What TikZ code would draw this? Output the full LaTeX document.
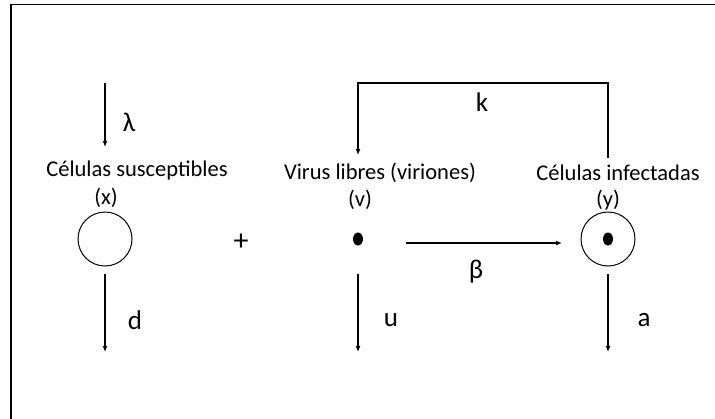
\documentclass[tikz,border=0pt]{standalone}
\usepackage{fontspec}
\setmainfont{Carlito}
\usetikzlibrary{arrows.meta,shapes.geometric}
\begin{document}
\begin{tikzpicture}[x=1pt,y=-1pt,
  txt/.style={inner sep=0pt,font=\fontsize{22.5}{24}\selectfont},
  lbl/.style={inner sep=0pt,font=\fontsize{27}{29}\selectfont},
  cell/.style={draw,circle,minimum size=54pt,inner sep=0pt,line width=1pt},
  dotn/.style={fill,ellipse,minimum width=10pt,minimum height=13pt,inner sep=0pt},
  flow/.style={line width=1.2pt,-{Latex[length=6pt,width=5pt]}}]
\useasboundingbox (0,0) rectangle (715,418);
\draw[line width=1.4pt] (11,419) -- (11,4.5) -- (716,4.5);
% nodes
\node[txt] (tsus) at (137,170) {Células susceptibles};
\node[txt] (lx) at (106,198) {(x)};
\node[cell] (cx) at (105,239) {};
\node[inner sep=0pt,font=\fontsize{30}{32}\selectfont] (plus) at (241,242) {+};
\node[txt] (tvir) at (380,173) {Virus libres (viriones)};
\node[txt] (lv) at (360,200) {(v)};
\node[dotn] (dv) at (358,239) {};
\node[txt] (tinf) at (618,173) {Células infectadas};
\node[txt] (ly) at (608,200) {(y)};
\node[cell] (cy) at (608,239) {};
\node[dotn] (dy) at (cy.center) {};
% coordinates
\coordinate (lamtop) at (105,83);
\coordinate (lamend) at (105,147);
\coordinate (dtop) at (105,274);
\coordinate (dend) at (105,352);
\coordinate (utop) at (358,274);
\coordinate (uend) at (358,352);
\coordinate (atop) at (608,274);
\coordinate (aend) at (608,352);
\coordinate (kstart) at (608,158);
\coordinate (kend) at (358,155);
\coordinate (bstart) at (406,243);
\coordinate (bend) at (562,243);
% connectors
\draw[flow] (lamtop) -- (lamend);
\draw[flow] (dtop) -- (dend);
\draw[flow] (utop) -- (uend);
\draw[flow] (atop) -- (aend);
\draw[flow] (kstart) -- (608,83) -- (358,83) -- (kend);
\draw[flow] (bstart) -- (bend);
% labels
\node[lbl] (llam) at (129,122) {λ};
\node[lbl] (ld) at (135,320) {d};
\node[lbl] (lu) at (391,320) {u};
\node[lbl] (la) at (644,320) {a};
\node[lbl] (lk) at (482,102) {k};
\node[lbl] (lb) at (476,272) {β};
\end{tikzpicture}
\end{document}
